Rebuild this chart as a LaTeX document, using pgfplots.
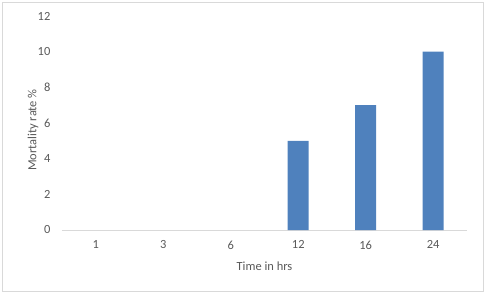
\documentclass[border=0pt]{standalone}
\usepackage{pgfplots}
\pgfplotsset{compat=1.18}
\usepackage{fontspec}
\setmainfont{Carlito}
\definecolor{barblue}{HTML}{4F81BD}
\definecolor{txt}{HTML}{595959}
\definecolor{axgray}{HTML}{D9D9D9}
\begin{document}
\begin{tikzpicture}
\begin{axis}[
  at={(0,0)}, anchor=south west,
  scale only axis,
  width=405bp, height=214bp,
  xmin=-0.5, xmax=5.5,
  ymin=0, ymax=12,
  ytick={0,2,4,6,8,10,12},
  xtick={0,1,2,3,4,5},
  xticklabels={1,3,6,12,16,24},
  axis x line=bottom,
  axis y line=left,
  y axis line style={draw=none},
  x axis line style={axgray, line width=0.8pt, -},
  major tick style={draw=none},
  ybar, bar width=21bp,
  ticklabel style={font=\fontsize{12.5}{14}\selectfont, text=txt},
  /pgf/number format/assume math mode=true,
  yticklabel style={xshift=-6bp},
  xticklabel style={yshift=-3bp},
  xlabel={Time in hrs},
  ylabel={Mortality rate \%},
  label style={font=\fontsize{12.5}{14}\selectfont, text=txt},
  xlabel style={at={(axis description cs:0.5,0)}, anchor=center, yshift=-36bp},
  ylabel style={at={(axis description cs:0,0.5)}, anchor=center, yshift=29bp, xshift=-7bp},
  clip=false,
  unbounded coords=discard,
]
\addplot[fill=barblue, draw=none, y filter/.expression={y==0 ? nan : y}] coordinates {(0,0) (1,0) (2,0) (3,5) (4,7) (5,10)};
\end{axis}
\draw[axgray, line width=0.8pt] (-60bp,-61bp) rectangle (421bp,228bp);
\path (-62bp,-63bp) rectangle (423bp,230bp);
\end{tikzpicture}
\end{document}
